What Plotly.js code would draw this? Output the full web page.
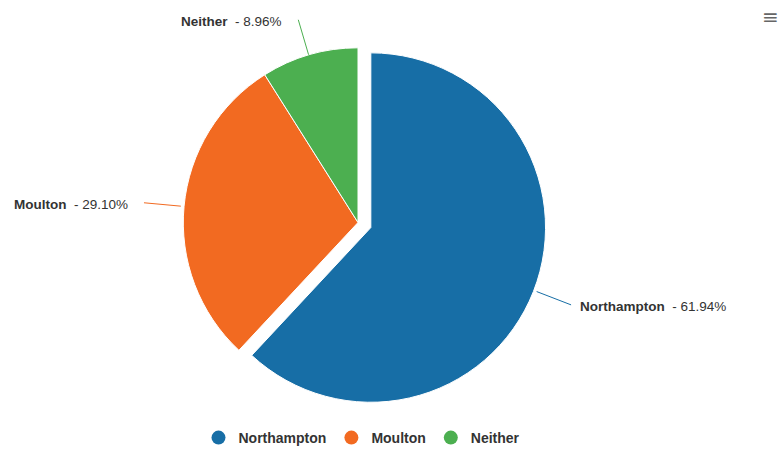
<!DOCTYPE html>
<html>
<head>
<meta charset="utf-8">
<script src="https://cdn.plot.ly/plotly-3.0.1.min.js"></script>
<style>html,body{margin:0;padding:0;background:#fff;}#chart{width:779px;height:454px;}</style>
</head>
<body>
<div id="chart"></div>
<script>
// ---- data ----
var categories = ["Northampton", "Moulton", "Neither"];
var shares = [61.94, 29.10, 8.96];
var colors = ["#176ea6", "#f26a21", "#4caf50"];
var pulls = [0.079, 0, 0];

// ---- layout geometry ----
var W = 779, H = 454;
var M = {l: 0, r: 63, t: 34, b: 36};
var plotW = W - M.l - M.r, plotH = H - M.t - M.b;
var maxPull = Math.max.apply(null, pulls);
var R = Math.min(plotW, plotH) / (2 + 2 * maxPull);
var CX = M.l + plotW / 2, CY = M.t + plotH / 2;
function px(x) { return (x - M.l) / plotW; }
function py(y) { return (H - M.b - y) / plotH; }

var total = shares.reduce(function (a, b) { return a + b; }, 0);
var annotations = [], shapes = [];
var cum = 0;
for (var i = 0; i < shares.length; i++) {
  var mid = 2 * Math.PI * (cum + shares[i] / 2) / total;
  cum += shares[i];
  var dx = Math.sin(mid), dy = -Math.cos(mid);
  var cx = CX + pulls[i] * R * dx, cy = CY + pulls[i] * R * dy;
  var ex = cx + R * dx, ey = cy + R * dy;
  var lx = cx + (R + 37) * dx, ly = cy + (R + 37) * dy;
  var right = dx >= 0;
  shapes.push({type: "line", xref: "paper", yref: "paper",
    x0: px(ex), y0: py(ey), x1: px(lx), y1: py(ly),
    line: {color: colors[i], width: 1}});
  annotations.push({xref: "paper", yref: "paper",
    x: px(lx + (right ? 7 : -14)), y: py(ly + 2),
    xanchor: right ? "left" : "right", yanchor: "middle",
    showarrow: false,
    text: "<b>" + categories[i] + "</b>  - " + shares[i].toFixed(2) + "%",
    font: {family: "Liberation Sans, Arial, sans-serif", size: 13.5, color: "#333333"}});
}
// menu icon
annotations.push({xref: "paper", yref: "paper", x: px(770), y: py(17),
  xanchor: "center", yanchor: "middle", showarrow: false, text: "≡",
  font: {family: "DejaVu Sans", size: 20, color: "#666666"}});

var traces = [{
  type: "pie",
  labels: categories,
  values: shares,
  sort: false,
  direction: "clockwise",
  rotation: 0,
  pull: pulls,
  textinfo: "none",
  hoverinfo: "label+percent",
  marker: {colors: colors, line: {color: "#ffffff", width: 1}},
  showlegend: false
}];
for (var j = 0; j < categories.length; j++) {
  traces.push({type: "scatter", mode: "markers", x: [null], y: [null],
    name: categories[j], showlegend: true,
    marker: {symbol: "circle", size: 14, color: colors[j]}});
}

var layout = {
  width: W, height: H,
  margin: M,
  paper_bgcolor: "#ffffff", plot_bgcolor: "#ffffff",
  xaxis: {visible: false}, yaxis: {visible: false},
  showlegend: true,
  legend: {orientation: "h", x: px(362), xanchor: "center", y: py(446), yanchor: "middle",
    font: {family: "Liberation Sans, Arial, sans-serif", size: 14, color: "#333333", weight: "bold"},
    itemclick: false, itemdoubleclick: false, tracegroupgap: 0},
  shapes: shapes,
  annotations: annotations
};
Plotly.newPlot("chart", traces, layout, {displayModeBar: false, staticPlot: true});
</script>
</body>
</html>
